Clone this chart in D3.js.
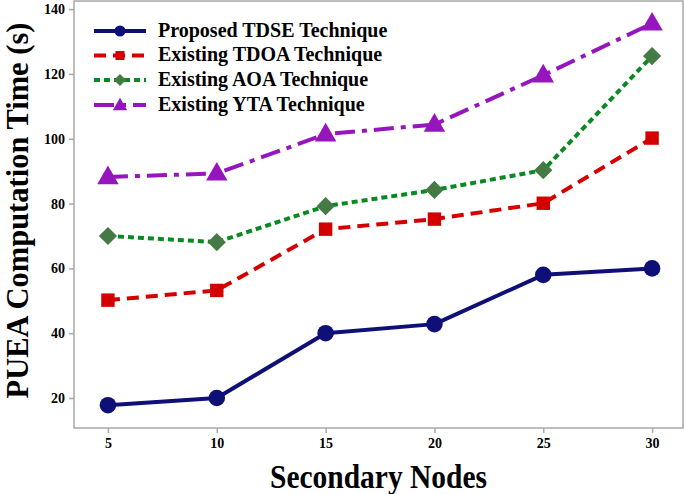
<!DOCTYPE html>
<html><head><meta charset="utf-8">
<script src="https://cdn.jsdelivr.net/npm/d3@7"></script>
<style>body{margin:0;background:#fff}svg{display:block}text{font-family:"Liberation Serif","Times New Roman",serif;font-weight:bold}</style>
</head><body><svg id="c" width="685" height="494"></svg>
<script>
const xValues = [5, 10, 15, 20, 25, 30];
const tdse = [17.8, 20, 40, 42.8, 58, 60];
const tdoa = [50.2, 53.2, 72.1, 75.2, 80.1, 100.2];
const aoa = [70, 68.1, 79.2, 84.2, 90.3, 125.5];
const yta = [88.2, 89.3, 101.4, 104.4, 119.6, 135.6];
const seriesNames = ["Proposed TDSE Technique", "Existing TDOA Technique", "Existing AOA Technique", "Existing YTA Technique"];
const yTicks = [20, 40, 60, 80, 100, 120, 140];

const series = [
  {name: seriesNames[0], values: tdse, color: "#0f0f78", mcolor: "#0f0f78", dash: null, marker: "circle", w: 4},
  {name: seriesNames[1], values: tdoa, color: "#d40000", mcolor: "#d40000", dash: "12,7", marker: "square", w: 4},
  {name: seriesNames[2], values: aoa, color: "#078a22", mcolor: "#467a44", dash: "6,4", marker: "diamond", w: 4},
  {name: seriesNames[3], values: yta, color: "#9616be", mcolor: "#9616be", dash: "20,7,5,7", marker: "triangle", w: 4}
];

const svg = d3.select("#c");
const L = 74, R = 683, T = 1, B = 428;
const x = d3.scaleLinear().domain([3.44, 31.42]).range([L, R]);
const y = d3.scaleLinear().domain([10.75, 142.5]).range([B, T]);

svg.append("rect").attr("x", L).attr("y", T).attr("width", R - L).attr("height", B - T)
  .attr("fill", "none").attr("stroke", "#a8a8a8").attr("stroke-width", 1.5);

const xa = svg.append("g").attr("transform", `translate(0,${B})`)
  .call(d3.axisBottom(x).tickValues(xValues).tickSize(5).tickPadding(5).tickFormat(d3.format("d")));
const ya = svg.append("g").attr("transform", `translate(${L},0)`)
  .call(d3.axisLeft(y).tickValues(yTicks).tickSize(5).tickPadding(4).tickFormat(d3.format("d")));
[xa, ya].forEach(a => {
  a.select(".domain").remove();
  a.selectAll("line").attr("stroke", "#a8a8a8").attr("stroke-width", 1.5);
  a.selectAll("text").attr("font-size", 14).attr("font-family", "Liberation Serif").attr("font-weight", "bold").attr("fill", "#000");
});

svg.append("text").attr("transform", `translate(${(L + R) / 2},488) scale(1,1.15)`).attr("text-anchor", "middle")
  .attr("font-size", 29.5).text("Secondary Nodes");
svg.append("text").attr("transform", `translate(28,210.5) rotate(-90)`).attr("text-anchor", "middle")
  .attr("font-size", 30.5).text("PUEA Computation Time (s)");

const symMap = {circle: d3.symbolCircle, square: d3.symbolSquare, diamond: d3.symbolSquare, triangle: d3.symbolTriangle};
const sizeMap = {circle: 215, square: 180, diamond: 165, triangle: 200};

function drawMarker(g, s, cx, cy, scale) {
  const sz = sizeMap[s.marker] * scale;
  const p = g.append("path").attr("d", d3.symbol().type(symMap[s.marker]).size(sz)())
    .attr("fill", s.mcolor);
  if (s.marker === "diamond") p.attr("transform", `translate(${cx},${cy}) rotate(45)`);
  else if (s.marker === "triangle") p.attr("transform", `translate(${cx},${cy + 1})`);
  else p.attr("transform", `translate(${cx},${cy})`);
}

const line = d3.line().x((d, i) => x(xValues[i])).y(d => y(d));
series.forEach(s => {
  svg.append("path").attr("d", line(s.values)).attr("fill", "none")
    .attr("stroke", s.color).attr("stroke-width", s.w)
    .attr("stroke-dasharray", s.dash).attr("stroke-linejoin", "round");
  const g = svg.append("g");
  s.values.forEach((v, i) => drawMarker(g, s, x(xValues[i]), y(v), 1));
});

// legend
const legY = [31, 55.5, 80, 105];
series.forEach((s, i) => {
  const g = svg.append("g");
  g.append("line").attr("x1", 94).attr("x2", 146).attr("y1", legY[i]).attr("y2", legY[i])
    .attr("stroke", s.color).attr("stroke-width", s.w).attr("stroke-dasharray", s.dash);
  drawMarker(g, s, 120, legY[i], 0.45);
  g.append("text").attr("x", 158).attr("y", legY[i] + 5.5).attr("font-size", 20).text(s.name);
});
</script></body></html>
